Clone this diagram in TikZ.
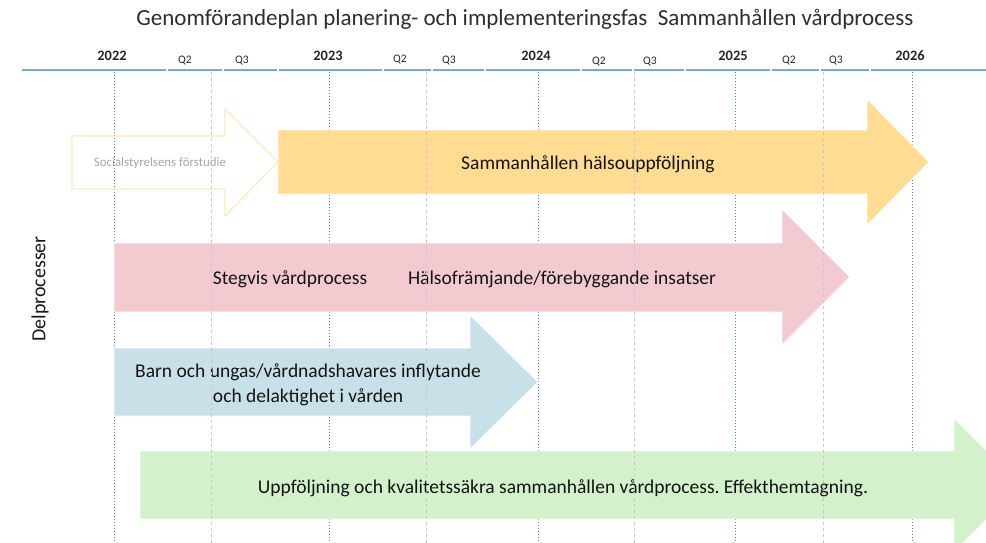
\documentclass[tikz,border=0pt]{standalone}
\usepackage{fontspec}
\setmainfont{Carlito}
\frenchspacing
\begin{document}
\begin{tikzpicture}[x=1pt,y=-1pt,
  yearlbl/.style={font=\bfseries\fontsize{14.4}{16}\selectfont, text=black!85},
  qlbl/.style={font=\fontsize{11.5}{13}\selectfont, text=black!85},
  yearline/.style={draw=blue!40!cyan!70!black, dotted, line width=1pt, opacity=0.8},
  qline/.style={draw=black!22, dashed, line width=0.9pt},
  arrowbody/.style={draw=white, line width=0.8pt},
  lbl/.style={font=\fontsize{19.5}{25}\selectfont, text=black!92, align=center},
]
\definecolor{tl}{HTML}{7AA9CF}
\definecolor{ayellow}{HTML}{FFDC91}
\definecolor{apink}{HTML}{F4CAD1}
\definecolor{ablue}{HTML}{C8E0E8}
\definecolor{agreen}{HTML}{D3F1CA}
\definecolor{aoutline}{HTML}{FFE9BC}
\useasboundingbox (0,0) rectangle (986,543);
\clip (0,0) rectangle (986,543);

% title
\node (title) at (525,19) {\fontsize{23}{27}\selectfont\color{black!82}Genomförandeplan planering- och implementeringsfas\ \ Sammanhållen vårdprocess};

% timeline segments
\foreach \a/\b in {22/166,168/222,224/277,279/382,384/431,433/484,486/580,582/632,634/684,686/770,772/819,821/869,871/986}
  \draw[tl, line width=1.6pt] (\a,70) -- (\b,70);

% labels
\node[yearlbl] (y22) at (112,56) {2022};
\node[yearlbl] (y23) at (328,56) {2023};
\node[yearlbl] (y24) at (536,56) {2024};
\node[yearlbl] (y25) at (733,56) {2025};
\node[yearlbl] (y26) at (910,56) {2026};
\node[qlbl] (q2a) at (185,61) {Q2};
\node[qlbl] (q3a) at (242,61) {Q3};
\node[qlbl] (q2b) at (400,60) {Q2};
\node[qlbl] (q3b) at (449,61) {Q3};
\node[qlbl] (q2c) at (599,62) {Q2};
\node[qlbl] (q3c) at (650,62) {Q3};
\node[qlbl] (q2d) at (789,61) {Q2};
\node[qlbl] (q3d) at (836,61) {Q3};

% year lines (behind arrows)
\foreach \x in {114,329,538,735,912}
  \draw[yearline] (\x,72) -- (\x,543);

% Socialstyrelsens förstudie outline arrow
\draw[aoutline, line width=1.3pt] (72,136) -- (225,136) -- (225,109) -- (278,162) -- (225,216) -- (225,189) -- (72,189) -- cycle;
\node[font=\fontsize{12.9}{15}\selectfont, text=black!35] (soc) at (160,163) {Socialstyrelsens förstudie};

% yellow arrow
\path[arrowbody, fill=ayellow] (278,130) -- (867,130) -- (867,99) -- (929,162) -- (867,225) -- (867,194) -- (278,194) -- cycle;
\node[lbl] (sam) at (588,164) {Sammanhållen hälsouppföljning};

% pink arrow
\path[arrowbody, fill=apink] (114,243) -- (782,243) -- (782,209) -- (850,277) -- (782,345) -- (782,312) -- (114,312) -- cycle;
\node[lbl] (steg) at (290,279) {Stegvis vårdprocess};
\node[lbl] (hals) at (562,279) {Hälsofrämjande/förebyggande insatser};

% blue arrow
\path[arrowbody, fill=ablue] (114,348) -- (470,348) -- (470,315) -- (538,382) -- (470,449) -- (470,416) -- (114,416) -- cycle;
\node[lbl] (barn) at (308,385) {Barn och ungas/vårdnadshavares inflytande\\och delaktighet i vården};

% green arrow
\path[arrowbody, fill=agreen] (140,451) -- (954,451) -- (954,418) -- (1021,485) -- (954,552) -- (954,519) -- (140,519) -- cycle;
\node[lbl] (upp) at (563,488) {Uppföljning och kvalitetssäkra sammanhållen vårdprocess. Effekthemtagning.};

% quarter lines (on top)
\foreach \x in {211,426,634,823}
  \draw[qline] (\x,72) -- (\x,543);

% side label
\node[rotate=90, font=\fontsize{20}{24}\selectfont, text=black!90] (delp) at (40,289) {Delprocesser};
\end{tikzpicture}
\end{document}
